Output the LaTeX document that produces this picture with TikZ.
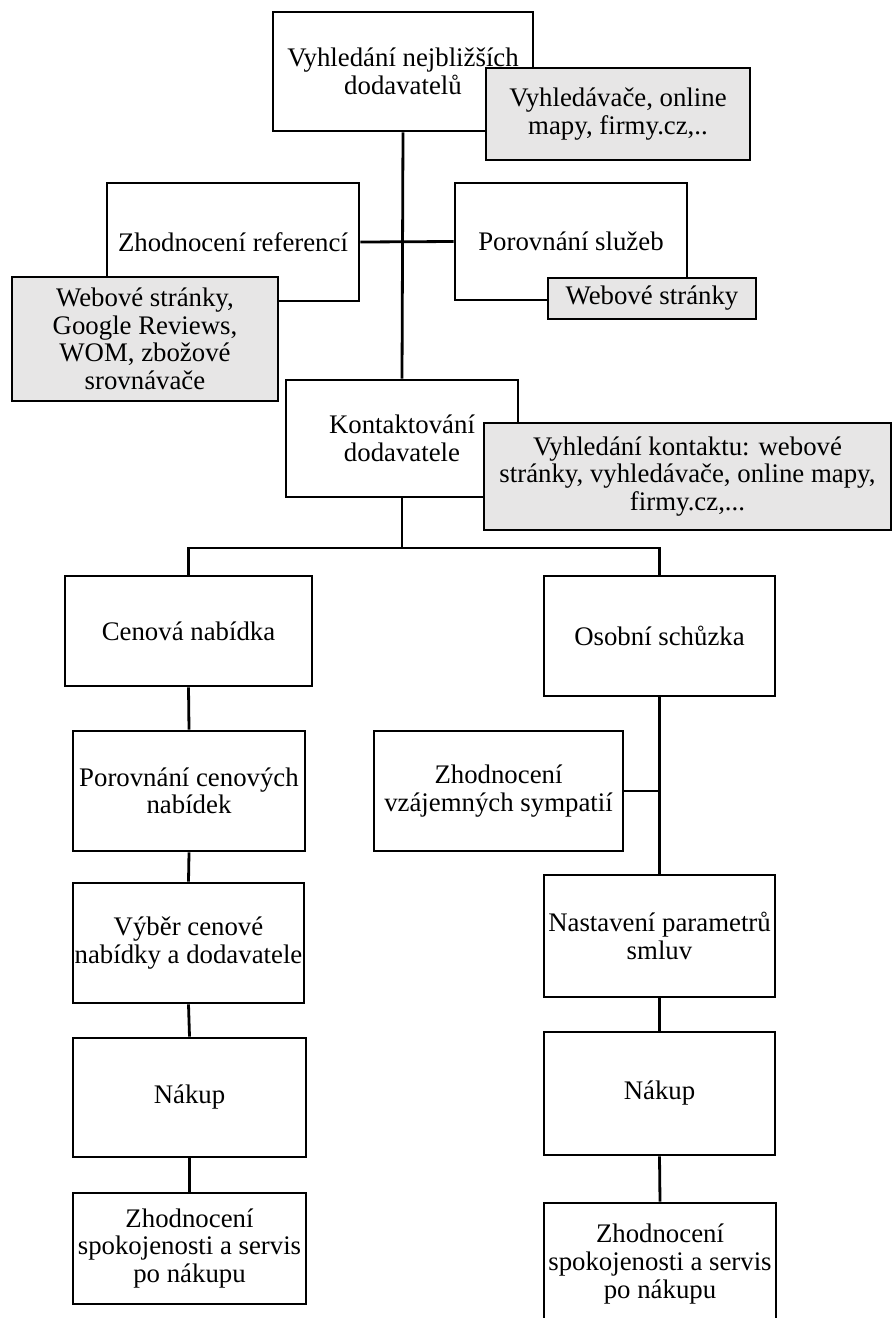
\documentclass[tikz,border=0pt]{standalone}
\usepackage{fontspec}
\setmainfont{Liberation Serif}
\definecolor{toolGray}{RGB}{231,230,230}
\tikzstyle{stepBox}=[shape = rectangle, draw, fill = white, line width = 1.4pt, inner sep = 0pt, align = center, font = \fontsize{13.4}{13.8}\selectfont]
\tikzstyle{toolBox}=[stepBox, fill = toolGray]

\begin{document}
\begin{tikzpicture}[x = 0.5pt, y = -0.5pt]
\tikzstyle{linkStyle}=[line width = 1.4pt]
\clip (0,0) rectangle (892,1318);
% search
\node[stepBox, minimum width = 130pt, minimum height = 59.5pt] (s0) at (403,71.5) {Vyhledání nejbližších\\dodavatelů};
\node[toolBox, minimum width = 132pt, minimum height = 46pt] (t0) at (618,114) {Vyhledávače, online\\mapy, firmy.cz,..};
\node[stepBox, minimum width = 126pt, minimum height = 59pt] (s1) at (233,242) {Zhodnocení referencí};
\node[toolBox, minimum width = 133pt, minimum height = 62pt] (t1) at (145,339) {Webové stránky,\\Google Reviews,\\WOM, zbožové\\srovnávače};
\node[stepBox, minimum width = 116pt, minimum height = 58.5pt] (s2) at (571,241.5) {Porovnání služeb};
\node[toolBox, minimum width = 104pt, minimum height = 20.5pt] (t2) at (652,298.5) {Webové stránky};
\node[stepBox, minimum width = 116pt, minimum height = 58.5pt] (s3) at (402,438.5) {Kontaktování\\dodavatele};
\node[toolBox, minimum width = 203.5pt, minimum height = 53.5pt] (t3) at (687.5,476.5) {Vyhledání kontaktu: webové\\stránky, vyhledávače, online mapy,\\firmy.cz,...};
% left branch
\node[stepBox, minimum width = 123.5pt, minimum height = 55pt] (s4) at (188.5,631) {Cenová nabídka};
\node[stepBox, minimum width = 116pt, minimum height = 60pt] (s5) at (189,791) {Porovnání cenových\\nabídek};
\node[stepBox, minimum width = 115.5pt, minimum height = 60pt] (s6) at (188.5,943) {Výběr cenové\\nabídky a dodavatele};
\node[stepBox, minimum width = 116.5pt, minimum height = 59.5pt] (s7) at (189.5,1097.5) {Nákup};
\node[stepBox, minimum width = 116.5pt, minimum height = 55.5pt] (s8) at (189.5,1248.5) {Zhodnocení\\spokojenosti a servis\\po nákupu};
% right branch
\node[stepBox, minimum width = 115.5pt, minimum height = 60pt] (s9) at (659.5,636) {Osobní schůzka};
\node[stepBox, minimum width = 124.5pt, minimum height = 60pt] (s10) at (498.5,791) {Zhodnocení\\vzájemných sympatií};
\node[stepBox, minimum width = 115.5pt, minimum height = 61pt] (s11) at (659.5,936) {Nastavení parametrů\\smluv};
\node[stepBox, minimum width = 115.5pt, minimum height = 61.5pt] (s12) at (659.5,1093.5) {Nákup};
\node[stepBox, minimum width = 116pt, minimum height = 61pt] (s13) at (660,1264) {Zhodnocení\\spokojenosti a servis\\po nákupu};
\coordinate (fork) at (402,548);
\draw[linkStyle] (s0.south) -- (s3.north);
\draw[linkStyle] (s1.east) -- (s2.west);
\draw[linkStyle] (s3.south) -- (fork) -| (s4.north);
\draw[linkStyle] (fork) -| (s9.north);
\draw[linkStyle] (s4.south) -- (s5.north);
\draw[linkStyle] (s5.south) -- (s6.north);
\draw[linkStyle] (s6.south) -- (s7.north);
\draw[linkStyle] (s7.south) -- (s8.north);
\draw[linkStyle] (s9.south) -- (s11.north);
\draw[linkStyle] (s10.east) -- (s10.east -| s9.south);
\draw[linkStyle] (s11.south) -- (s12.north);
\draw[linkStyle] (s12.south) -- (s13.north);
\end{tikzpicture}
\end{document}
